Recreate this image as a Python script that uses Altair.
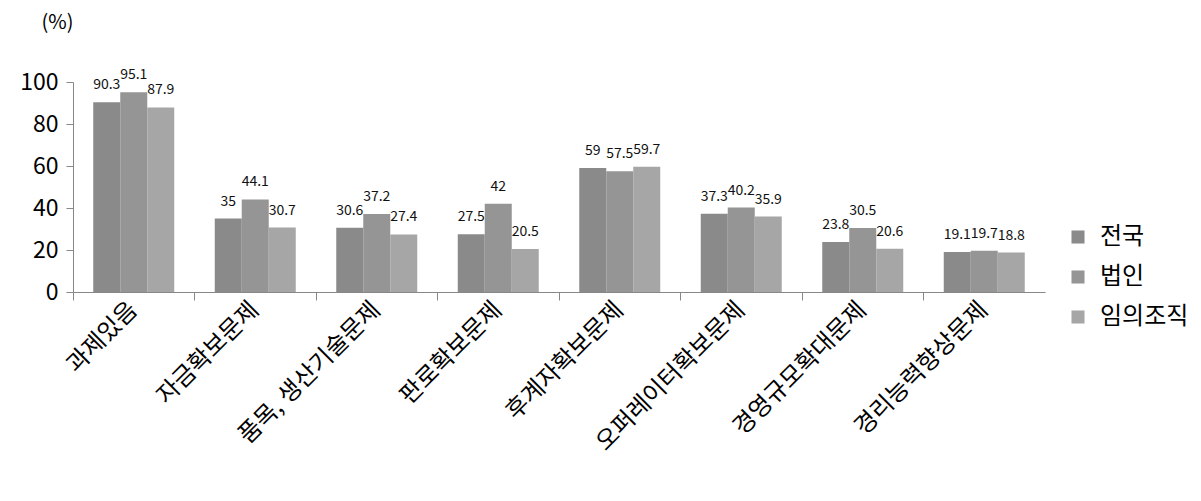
import altair as alt
import pandas as pd

categories = ["과제있음", "자금확보문제", "품목, 생산기술문제", "판로확보문제",
              "후계자확보문제", "오퍼레이터확보문제", "경영규모확대문제", "경리능력향상문제"]
series = ["전국", "법인", "임의조직"]
v_national = [90.3, 35, 30.6, 27.5, 59, 37.3, 23.8, 19.1]
v_corp = [95.1, 44.1, 37.2, 42, 57.5, 40.2, 30.5, 19.7]
v_voluntary = [87.9, 30.7, 27.4, 20.5, 59.7, 35.9, 20.6, 18.8]
label_national = ["90.3", "35", "30.6", "27.5", "59", "37.3", "23.8", "19.1"]
label_corp = ["95.1", "44.1", "37.2", "42", "57.5", "40.2", "30.5", "19.7"]
label_voluntary = ["87.9", "30.7", "27.4", "20.5", "59.7", "35.9", "20.6", "18.8"]
colors = ["#8a8a8a", "#959595", "#a6a6a6"]

rows = []
for s, vals, labs in zip(series, [v_national, v_corp, v_voluntary],
                         [label_national, label_corp, label_voluntary]):
    for c, v, l in zip(categories, vals, labs):
        rows.append({"category": c, "series": s, "value": v, "label": l})
df = pd.DataFrame(rows)

FONT = "Noto Sans CJK KR"

x = alt.X("category:N", sort=categories, title=None,
          scale=alt.Scale(paddingInner=0, paddingOuter=0),
          axis=alt.Axis(labelAngle=-45, labelFontSize=24, labelColor="#000",
                        labelFont=FONT, bandPosition=0, domainColor="#888",
                        tickColor="#888", tickSize=8, labelPadding=6,
                        labelAlign="right", labelBaseline="middle",
                        labelLimit=0, grid=False))
xo = alt.XOffset("series:N", sort=series,
                 scale=alt.Scale(paddingInner=0, paddingOuter=0.75))
y = alt.Y("value:Q", scale=alt.Scale(domain=[0, 100]),
          axis=alt.Axis(values=[0, 20, 40, 60, 80, 100], grid=False,
                        labelFontSize=23, labelColor="#000", labelFont=FONT,
                        domainColor="#888", tickColor="#888", tickSize=7,
                        labelPadding=8, title="(%)", titleAngle=0,
                        titleFontSize=20, titleFontWeight="normal",
                        titleFont=FONT, titleColor="#000",
                        titleX=-16, titleY=-60, titleAlign="center",
                        titleBaseline="middle"))

bars = alt.Chart(df).mark_bar().encode(
    x=x, xOffset=xo, y=y,
    color=alt.Color("series:N", sort=series,
                    scale=alt.Scale(domain=series, range=colors),
                    legend=alt.Legend(title=None, orient="none", legendX=993,
                                      legendY=143, labelFontSize=24,
                                      labelFont=FONT, labelColor="#000",
                                      symbolType="square", symbolSize=170,
                                      symbolStrokeWidth=0, rowPadding=16,
                                      labelOffset=10))
)

text = alt.Chart(df).mark_text(baseline="bottom", dy=-10, fontSize=14,
                               font=FONT, color="#111").encode(
    x=alt.X("category:N", sort=categories), xOffset=xo,
    y="value:Q", text="label:N"
)

chart = alt.layer(bars, text).properties(
    width=972, height=210,
    background="white",
    autosize=alt.AutoSizeParams(type="none"),
    padding={"left": 73, "top": 82, "right": 156, "bottom": 209}
).configure_view(stroke=None)

chart.save("out.html", embed_options={"renderer": "svg", "actions": False})
